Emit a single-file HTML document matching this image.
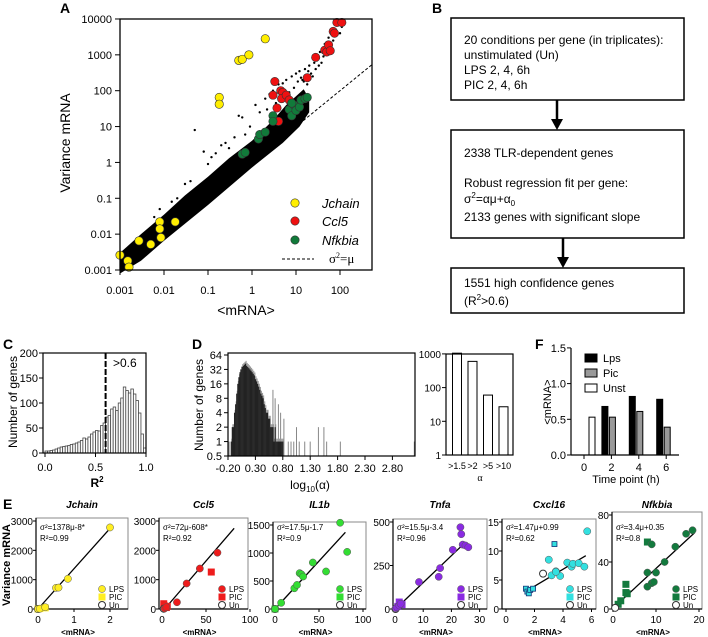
<!DOCTYPE html>
<html><head><meta charset="utf-8"><style>
html,body{margin:0;padding:0;background:#fff;}
svg{display:block;font-family:"Liberation Sans",Arial,sans-serif;}
text{fill:#000;}
</style></head><body>
<svg id="fig" width="708" height="637" viewBox="0 0 708 637" xmlns="http://www.w3.org/2000/svg">
<g id="gA"></g>
<g id="gB">
  <text x="432" y="13" font-size="14" font-weight="bold">B</text>
  <rect x="451" y="18" width="233" height="82" fill="none" stroke="#000" stroke-width="1.5"/>
  <text x="464" y="44" font-size="12">20 conditions per gene (in triplicates):</text>
  <text x="464" y="59" font-size="12">unstimulated (Un)</text>
  <text x="464" y="74" font-size="12">LPS 2, 4, 6h</text>
  <text x="464" y="89" font-size="12">PIC 2, 4, 6h</text>
  <line x1="557" y1="100" x2="557" y2="120" stroke="#000" stroke-width="2.5"/>
  <polygon points="551,119 563,119 557,130" fill="#000"/>
  <rect x="451" y="130" width="233" height="108" fill="none" stroke="#000" stroke-width="1.5"/>
  <text x="464" y="157" font-size="12">2338 TLR-dependent genes</text>
  <text x="464" y="187" font-size="12">Robust regression fit per gene:</text>
  <text x="464" y="203" font-size="12">σ<tspan font-size="8" dy="-5">2</tspan><tspan dy="5">=αμ+α</tspan><tspan font-size="8" dy="3">0</tspan></text>
  <text x="464" y="221" font-size="12">2133 genes with significant slope</text>
  <line x1="563" y1="238" x2="563" y2="258" stroke="#000" stroke-width="2.5"/>
  <polygon points="557,257 569,257 563,268" fill="#000"/>
  <rect x="451" y="268" width="233" height="45" fill="none" stroke="#000" stroke-width="1.5"/>
  <text x="464" y="287" font-size="12">1551 high confidence genes</text>
  <text x="464" y="305" font-size="12">(R<tspan font-size="8" dy="-5">2</tspan><tspan dy="5">&gt;0.6)</tspan></text>
</g>
<g id="gC"></g>
<g id="gD"></g>
<g id="gF"></g>
<g id="gE"></g>
</svg>
<script>
// ---------- Panel A data ----------
const aXTicks = [0.001, 0.01, 0.1, 1, 10, 100];
const aXTickLabels = ["0.001", "0.01", "0.1", "1", "10", "100"];
const aYTicks = [0.001, 0.01, 0.1, 1, 10, 100, 1000, 10000];
const aYTickLabels = ["0.001", "0.01", "0.1", "1", "10", "100", "1000", "10000"];
const cloudUpper = [[0.001,0.003],[0.003,0.01],[0.01,0.035],[0.03,0.12],[0.1,0.4],[0.3,1.3],[1,4],[3,15],[6,40],[10,70],[15,110],[20,60]];
const cloudLower = [[20,25],[12,10],[5,3.5],[1,0.72],[0.1,0.065],[0.01,0.0065],[0.003,0.0018],[0.001,0.0008]];
const outlierX = [0.05,0.08,0.1,0.12,0.03,0.02,0.04,0.15,0.2,0.25,0.3,0.4,0.5,0.6,0.7,0.9,1.2,1.5,2,2.5,3,4,5,6,8,9,10,12,14,16,20,22,25,30,35,40,45,55,65,80,90,110,0.008,0.006,0.015,2.2,3.5,4.5,7,11,13,18,24,28,33,38,42,50,60,70,100,15,17,19,26];
const outlierY = [8,2,0.9,1.4,0.25,0.1,0.3,1.8,3,3.5,2.5,5,20,18,6,10,40,25,60,80,100,150,160,200,250,120,300,350,200,400,500,300,900,700,1200,1500,2000,3000,5000,7000,9000,6000,0.05,0.03,0.08,30,45,55,90,180,230,150,250,400,500,600,900,1000,1800,2500,4000,180,250,350,600];
const jchainX = [0.18,0.18,0.5,0.6,0.85,2,0.001,0.0015,0.0016,0.0027,0.005,0.008,0.008,0.0085,0.018];
const jchainY = [65,42,700,750,1000,2800,0.0026,0.0018,0.0012,0.0065,0.0052,0.022,0.014,0.008,0.022];
const ccl5X = [3.3,3,3.7,4,4.5,5,4.7,6,7,18,28,45,50,55,60,70,75,85,110];
const ccl5Y = [180,75,33,14,100,90,60,75,55,230,850,1350,1200,1900,1300,4500,4000,8000,8000];
const nfkbiaX = [0.6,0.7,1.4,1.5,2,3,3,7,8,9,10,12,13,16,18,8];
const nfkbiaY = [1.7,1.9,4.5,6,7,20,14,30,20,40,28,35,55,60,65,45];

// ---------- Panel C data ----------
const cCounts = [4,4,5,6,8,10,12,13,14,15,17,18,20,22,25,30,28,32,38,42,45,44,55,60,72,75,88,92,85,100,110,132,125,120,128,118,105,80,38,10];
const cYTicks = [0,50,100,150,200];
const cXTicks = [0,0.5,1];
const cXTickLabels = ["0.0","0.5","1.0"];

// ---------- Panel D data ----------
const dDarkStart = -0.14;
const dDarkCounts = [1,2,2,4,6,10,16,22,28,32,36,38,40,42,38,36,34,32,30,28,26,24,20,18,16,14,12,10,9,8,6,5,4,4,3,3,2,2,2,1,2,1,1,1,1,1,1,1];
const dGrayX = [-0.18,-0.12,-0.08,0.62,0.66,0.72,0.76,0.82,0.9,0.95,1.0,1.05,1.1,1.2,1.3,1.45,1.55,1.6,1.85,3.2];
const dGrayY = [1,2,2,12,8,6,4,3,1,1,1,2,1,1,1,2,2,1,1,1];
const dYTicks = [0.5,1,2,4,8,16,32,64];
const dXTicks = [-0.2,0.3,0.8,1.3,1.8,2.3,2.8];
const d2Cats = [">1.5",">2",">5",">10"];
const d2Vals = [1050,600,60,27];
const d2YTicks = [1,10,100,1000];

// ---------- Panel F data ----------
const fTimes = [0,2,4,6];
const fLps = [null,0.68,0.82,0.78];
const fPic = [null,0.53,0.61,0.39];
const fUnst = [0.53,null,null,null];
const fYTicks = [0,0.5,1.0,1.5];

// ---------- Panel E data ----------
const eTitles = ["Jchain","Ccl5","IL1b","Tnfa","Cxcl16","Nfkbia"];
const eColors = ["#ffee22","#ee1c1c","#33dd33","#8a2be2","#33e0e0","#137a3e"];
const eEqs = ["σ²=1378μ-8*","σ²=72μ-608*","σ²=17.5μ-1.7","σ²=15.5μ-3.4","σ²=1.47μ+0.99","σ²=3.4μ+0.35"];
const eR2 = ["R²=0.99","R²=0.92","R²=0.9","R²=0.96","R²=0.62","R²=0.8"];
const eXTicks = [[0,1,2],[0,50,100],[0,50,100],[0,10,20,30],[0,2,4,6],[0,10,20]];
const eYTicks = [[0,1000,2000,3000],[0,1000,2000,3000],[0,500,1000,1500],[0,250,500],[0,5,10,15],[0,40,80]];
const eLpsX = [[0,0.05,0.2,0.5,0.57,0.83,2.0],[3,5,17,28,43,63],[0,7,22,25,28,30,32,43,58,74,82],[0.3,0.8,1.5,2,8.5,15.5,16,20.5,23.2,23.5,24,25,26],[3,3.2,3.5,3.8,4.3,4.6,4.7,5.1,5.5,5.7,3.5],[8,9,8,9,9.5,10,12,14.5,17,18.5]];
const eLpsY = [[0,10,60,720,730,1030,2780],[20,60,230,870,1380,1920],[0,110,370,430,640,620,580,830,670,1540,1020],[5,10,20,30,155,185,235,340,470,430,370,365,355],[8.5,5.8,6.5,5.7,8,7.3,7.8,7.9,7.3,13.4,6.4],[31,55,19,22,23,31,40,53,64,67]];
const ePicX = [[0,0.05,0.2],[2,3,5,6,56],[0],[1,1.5,2,2.5],[1.4,1.5,1.6,1.7,1.9,3.4],[1.2,1.8,3,3,3.3,8]];
const ePicY = [[0,15,40],[180,100,50,90,1260],[0],[15,40,30,25],[3.5,3,2.7,3.3,3.5,11.2],[4,7,21,14,13,57]];
const eUnX = [[0],[2],[0],[0.2],[2.6],[0.5]];
const eUnY = [[0],[10],[0],[0],[6.1],[1]];
const eLineX = [[0,2],[3,82],[0,80],[0.2,24.5],[1.4,5.6],[1,19]];
const eLineY = [[0,2748],[0,2750],[0,1370],[0,376],[3.05,9.2],[4,65]];

const NS = "http://www.w3.org/2000/svg";
function mk(parent, tag, attrs, txt){
  const el = document.createElementNS(NS, tag);
  for (const k in attrs) el.setAttribute(k, attrs[k]);
  if (txt !== undefined) el.textContent = txt;
  parent.appendChild(el);
  return el;
}

// ===== Panel A =====
(function(){
  const g = document.getElementById("gA");
  const X = v => 120 + (Math.log10(v) + 3) * 44;
  const Y = v => 270 - (Math.log10(v) + 3) * 35.86;
  let t = mk(g,"text",{x:60,y:13,"font-size":14,"font-weight":"bold"},"A");
  
  
  const pts = cloudUpper.concat(cloudLower).map(p => X(p[0]).toFixed(1)+","+Y(p[1]).toFixed(1)).join(" ");
  let poly = mk(g,"polygon",{points:pts,fill:"#000"});
  
  
  for (let i=0;i<outlierX.length;i++){
    let c = mk(g,"circle",{cx:X(outlierX[i]),cy:Y(outlierY[i]),r:1.2,fill:"#000"});
    
    
  }
  let dl = mk(g,"line",{x1:X(8),y1:Y(8),x2:372,y2:Y(Math.pow(10,(372-120)/44-3)),stroke:"#000","stroke-dasharray":"3,2","stroke-width":1});
  
  
  const sets = [[jchainX,jchainY,"#ffee00","jchain-point"],[ccl5X,ccl5Y,"#ee1111","ccl5-point"],[nfkbiaX,nfkbiaY,"#117a3a","nfkbia-point"]];
  sets.forEach(s=>{
    for (let i=0;i<s[0].length;i++){
      let c = mk(g,"circle",{cx:X(s[0][i]),cy:Y(s[1][i]),r:4.2,fill:s[2],stroke:"#333","stroke-width":0.6});
      
      
    }
  });
  let fr = mk(g,"rect",{x:120,y:19,width:252,height:251,fill:"none",stroke:"#000","stroke-width":1.3});
  
  
  aXTicks.forEach((v,i)=>{
    mk(g,"line",{x1:X(v),y1:270,x2:X(v),y2:275,stroke:"#000"});
    let tl = mk(g,"text",{x:X(v),y:294,"font-size":11,"text-anchor":"middle"},aXTickLabels[i]);
    
    
  });
  aYTicks.forEach((v,i)=>{
    mk(g,"line",{x1:115,y1:Y(v),x2:120,y2:Y(v),stroke:"#000"});
    let tl = mk(g,"text",{x:112,y:Y(v)+4,"font-size":11,"text-anchor":"end"},aYTickLabels[i]);
    
    
  });
  let xt = mk(g,"text",{x:246,y:315,"font-size":14,"text-anchor":"middle"},"<mRNA>");
  
  
  let yt = mk(g,"text",{x:0,y:0,"font-size":14,"text-anchor":"middle",transform:"translate(70,143) rotate(-90)"},"Variance mRNA");
  
  
  const leg = [["#ffee00","Jchain",203],["#ee1111","Ccl5",221],["#117a3a","Nfkbia",240]];
  leg.forEach(l=>{
    let c = mk(g,"circle",{cx:295,cy:l[2],r:4.2,fill:l[0],stroke:"#333","stroke-width":0.6});
    
    
    let lt = mk(g,"text",{x:322,y:l[2]+5,"font-size":13,"font-style":"italic"},l[1]);
    
    
  });
  mk(g,"line",{x1:282,y1:259,x2:314,y2:259,stroke:"#000","stroke-dasharray":"3,2"});
  let lt = mk(g,"text",{x:329,y:263,"font-size":13,"font-family":"Liberation Serif"});
  lt.innerHTML = 'σ<tspan font-size="8" dy="-5">2</tspan><tspan dy="5">=μ</tspan>';
  
  
})();

// ===== Panel C =====
(function(){
  const g = document.getElementById("gC");
  const X = v => 45 + v*101;
  const Y = v => 453 - v*0.5;
  let t = mk(g,"text",{x:3,y:349,"font-size":14,"font-weight":"bold"},"C");
  
  
  const w = 1/cCounts.length;
  cCounts.forEach((c,i)=>{
    let r = mk(g,"rect",{x:X(i*w),y:Y(c),width:101*w,height:c*0.5,fill:"#fff",stroke:"#444","stroke-width":0.8});
    
    
  });
  let fr = mk(g,"rect",{x:43,y:353,width:103,height:100,fill:"none",stroke:"#000","stroke-width":1.2});
  
  
  let dl = mk(g,"line",{x1:X(0.6),y1:353,x2:X(0.6),y2:453,stroke:"#000","stroke-width":2,"stroke-dasharray":"6,2"});
  
  
  mk(g,"text",{x:113,y:367,"font-size":12},">0.6");
  cYTicks.forEach(v=>{
    mk(g,"line",{x1:39,y1:Y(v),x2:43,y2:Y(v),stroke:"#000"});
    let tl = mk(g,"text",{x:38,y:Y(v)+4,"font-size":11,"text-anchor":"end"},String(v));
    
    
  });
  cXTicks.forEach((v,i)=>{
    mk(g,"line",{x1:X(v),y1:453,x2:X(v),y2:457,stroke:"#000"});
    let tl = mk(g,"text",{x:X(v),y:471,"font-size":11,"text-anchor":"middle"},cXTickLabels[i]);
    
    
  });
  let xt = mk(g,"text",{x:97,y:487,"font-size":12,"font-weight":"bold","text-anchor":"middle"});
  xt.innerHTML='R<tspan font-size="8" dy="-5">2</tspan>';
  
  
  let yt = mk(g,"text",{x:0,y:0,"font-size":12,"text-anchor":"middle",transform:"translate(17,402) rotate(-90)"},"Number of genes");
  
  
})();

// ===== Panel D =====
(function(){
  const g = document.getElementById("gD");
  const X = v => 228 + (v+0.2)*54.8;
  const Y = v => 456 - (Math.log2(v)+1)*14.43;
  let t = mk(g,"text",{x:192,y:349,"font-size":14,"font-weight":"bold"},"D");
  
  
  for (let i=0;i<dGrayX.length;i++){
    let r = mk(g,"rect",{x:X(dGrayX[i])-0.5,y:Y(dGrayY[i]),width:1,height:456-Y(dGrayY[i]),fill:"#888"});
    
    
  }
  dDarkCounts.forEach((c,i)=>{
    const xv = dDarkStart + i*0.02;
    let rg = mk(g,"rect",{x:X(xv),y:Y(c*1.15),width:1.1,height:456-Y(c*1.15),fill:"#999"});
    
    
    let r = mk(g,"rect",{x:X(xv)-0.6,y:Y(c),width:1.2,height:456-Y(c),fill:"#222"});
    
    
  });
  let fr = mk(g,"rect",{x:228,y:353,width:187,height:103,fill:"none",stroke:"#000","stroke-width":1.2});
  
  
  dYTicks.forEach(v=>{
    mk(g,"line",{x1:224,y1:Y(v),x2:228,y2:Y(v),stroke:"#000"});
    let tl = mk(g,"text",{x:222,y:Y(v)+4,"font-size":11,"text-anchor":"end"},String(v));
    
    
  });
  dXTicks.forEach(v=>{
    mk(g,"line",{x1:X(v),y1:456,x2:X(v),y2:460,stroke:"#000"});
    let tl = mk(g,"text",{x:X(v),y:472,"font-size":11,"text-anchor":"middle"},v.toFixed(2));
    
    
  });
  let xt = mk(g,"text",{x:310,y:489,"font-size":12,"text-anchor":"middle"});
  xt.innerHTML='log<tspan font-size="8" dy="3">10</tspan><tspan dy="-3">(α)</tspan>';
  
  
  let yt = mk(g,"text",{x:0,y:0,"font-size":12,"text-anchor":"middle",transform:"translate(203,405) rotate(-90)"},"Number of genes");
  
  
  const Y2 = v => 455 - Math.log10(v)*33.7;
  const XC = i => 457 + i*15.5;
  d2Vals.forEach((v,i)=>{
    let r = mk(g,"rect",{x:XC(i)-4.5,y:Y2(v),width:9,height:455-Y2(v),fill:"#fff",stroke:"#000","stroke-width":1});
    
    
    let tl = mk(g,"text",{x:XC(i),y:469,"font-size":9,"text-anchor":"middle"},d2Cats[i]);
    
    
  });
  let fr2 = mk(g,"rect",{x:446,y:354,width:67,height:101,fill:"none",stroke:"#000","stroke-width":1.2});
  
  
  d2YTicks.forEach(v=>{
    mk(g,"line",{x1:442,y1:Y2(v),x2:446,y2:Y2(v),stroke:"#000"});
    let tl = mk(g,"text",{x:441,y:Y2(v)+4,"font-size":10,"text-anchor":"end"},String(v));
    
    
  });
  let at = mk(g,"text",{x:480,y:481,"font-size":10,"text-anchor":"middle","font-family":"Liberation Serif"},"α");
  
  
})();

// ===== Panel F =====
(function(){
  const g = document.getElementById("gF");
  const X = v => 584 + v*13.7;
  const Y = v => 455 - v*71.4;
  let t = mk(g,"text",{x:535,y:349,"font-size":14,"font-weight":"bold"},"F");
  
  
  fTimes.forEach((tm,i)=>{
    if (fLps[i]!==null){
      let r = mk(g,"rect",{x:X(tm)-9.5,y:Y(fLps[i]),width:6,height:455-Y(fLps[i]),fill:"#000",stroke:"#000"});
      
      
    }
    if (fPic[i]!==null){
      let r = mk(g,"rect",{x:X(tm)-2,y:Y(fPic[i]),width:6,height:455-Y(fPic[i]),fill:"#999",stroke:"#000"});
      
      
    }
    if (fUnst[i]!==null){
      let r = mk(g,"rect",{x:X(tm)+5,y:Y(fUnst[i]),width:6,height:455-Y(fUnst[i]),fill:"#fff",stroke:"#000"});
      
      
    }
    mk(g,"line",{x1:X(tm),y1:455,x2:X(tm),y2:459,stroke:"#000"});
    let tl = mk(g,"text",{x:X(tm),y:471,"font-size":11,"text-anchor":"middle"},String(tm));
    
    
  });
  mk(g,"line",{x1:571,y1:348,x2:571,y2:455,stroke:"#000","stroke-width":1.2});
  mk(g,"line",{x1:571,y1:455,x2:679,y2:455,stroke:"#000","stroke-width":1.2});
  fYTicks.forEach(v=>{
    mk(g,"line",{x1:567,y1:Y(v),x2:571,y2:Y(v),stroke:"#000"});
    let tl = mk(g,"text",{x:566,y:Y(v)+4,"font-size":11,"text-anchor":"end"},v.toFixed(1));
    
    
  });
  const leg = [["#000","Lps",358],["#999","Pic",373],["#fff","Unst",388]];
  leg.forEach(l=>{
    let r = mk(g,"rect",{x:585,y:l[2]-4,width:12,height:8,fill:l[0],stroke:"#000"});
    
    
    let lt = mk(g,"text",{x:603,y:l[2]+4,"font-size":11},l[1]);
    
    
  });
  let xt = mk(g,"text",{x:626,y:483,"font-size":11,"text-anchor":"middle"},"Time point (h)");
  
  
  let yt = mk(g,"text",{x:0,y:0,"font-size":11,"text-anchor":"middle",transform:"translate(551,402) rotate(-90)"},"<mRNA>");
  
  
})();

// ===== Panel E =====
(function(){
  const g = document.getElementById("gE");
  const L = [36,159,273,393,502,612];
  const X0 = [38,162,275,395,506,613];
  const XR = [128,248,366,487,596,702];
  const XSpan = [36,44,44,28.2,28.5,43];
  const YTop = [521,521,525,522,522,515];
  const YBot = 609;
  let t = mk(g,"text",{x:3,y:509,"font-size":14,"font-weight":"bold"},"E");
  
  
  let yt = mk(g,"text",{x:0,y:0,"font-size":11,"font-weight":"bold","text-anchor":"middle",transform:"translate(10,565) rotate(-90)"},"Variance mRNA");
  
  
  for (let k=0;k<6;k++){
    const sub = mk(g,"g",{});
    
    
    const xt = eXTicks[k], yt2 = eYTicks[k];
    const pxPerUnit = XSpan[k]/(xt[1]-xt[0]);
    const X = v => X0[k] + v*pxPerUnit;
    const yMaxT = yt2[yt2.length-1];
    const Y = v => YBot - v*(YBot-YTop[k])/yMaxT;
    let fr = mk(sub,"rect",{x:L[k],y:YTop[k]-3,width:XR[k]-L[k],height:YBot-YTop[k]+3,fill:"none",stroke:"#888","stroke-width":1});
    
    
    mk(sub,"line",{x1:L[k],y1:YTop[k]-3,x2:L[k],y2:YBot,stroke:"#000","stroke-width":1.2});
    mk(sub,"line",{x1:L[k],y1:YBot,x2:XR[k],y2:YBot,stroke:"#000","stroke-width":1.2});
    let ti = mk(sub,"text",{x:(L[k]+XR[k])/2,y:508,"font-size":10,"font-weight":"bold","font-style":"italic","text-anchor":"middle"},eTitles[k]);
    
    
    xt.forEach(v=>{
      mk(sub,"line",{x1:X(v),y1:YBot,x2:X(v),y2:YBot+3,stroke:"#000"});
      let tl = mk(sub,"text",{x:X(v),y:623,"font-size":10,"text-anchor":"middle"},String(v));
      
      
    });
    yt2.forEach(v=>{
      mk(sub,"line",{x1:L[k]-3,y1:Y(v),x2:L[k],y2:Y(v),stroke:"#000"});
      let tl = mk(sub,"text",{x:L[k]-3,y:Y(v)+4,"font-size":10,"text-anchor":"end"},String(v));
      
      
    });
    let xa = mk(sub,"text",{x:(L[k]+XR[k])/2 - 4,y:635,"font-size":8,"font-weight":"bold","text-anchor":"middle"},"<mRNA>");
    
    
    let eq = mk(sub,"text",{x:L[k]+4,y:530,"font-size":8},eEqs[k]);
    
    
    let r2 = mk(sub,"text",{x:L[k]+4,y:541,"font-size":8},eR2[k]);
    
    
    let fl = mk(sub,"line",{x1:X(eLineX[k][0]),y1:Y(eLineY[k][0]),x2:X(eLineX[k][1]),y2:Y(eLineY[k][1]),stroke:"#000","stroke-width":1.3});
    
    
    const col = eColors[k];
    for (let i=0;i<ePicX[k].length;i++){
      const s = (k===4)?5:7;
      let r = mk(sub,"rect",{x:X(ePicX[k][i])-s/2,y:Y(ePicY[k][i])-s/2,width:s,height:s,fill:col,stroke:(k===4)?"#137":"none","stroke-width":0.8});
      
      
    }
    for (let i=0;i<eUnX[k].length;i++){
      let c = mk(sub,"circle",{cx:X(eUnX[k][i]),cy:Y(eUnY[k][i]),r:3.5,fill:"#fff",stroke:"#333","stroke-width":1});
      
      
    }
    for (let i=0;i<eLpsX[k].length;i++){
      let c = mk(sub,"circle",{cx:X(eLpsX[k][i]),cy:Y(eLpsY[k][i]),r:3.6,fill:col,stroke:"#555","stroke-width":0.5});
      
      
    }
    const lx = XR[k]-26;
    let m1 = mk(sub,"circle",{cx:lx,cy:589,r:3.5,fill:col,stroke:"#555","stroke-width":0.5});
    
    
    let m2 = mk(sub,"rect",{x:lx-3.5,y:593.5,width:7,height:7,fill:col});
    
    
    let m3 = mk(sub,"circle",{cx:lx,cy:605,r:3.5,fill:"#fff",stroke:"#333"});
    
    
    ["LPS","PIC","Un"].forEach((s,j)=>{
      let lt = mk(sub,"text",{x:lx+7,y:592+j*8,"font-size":8},s);
      
      
    });
  }
})();
</script>
</body></html>
